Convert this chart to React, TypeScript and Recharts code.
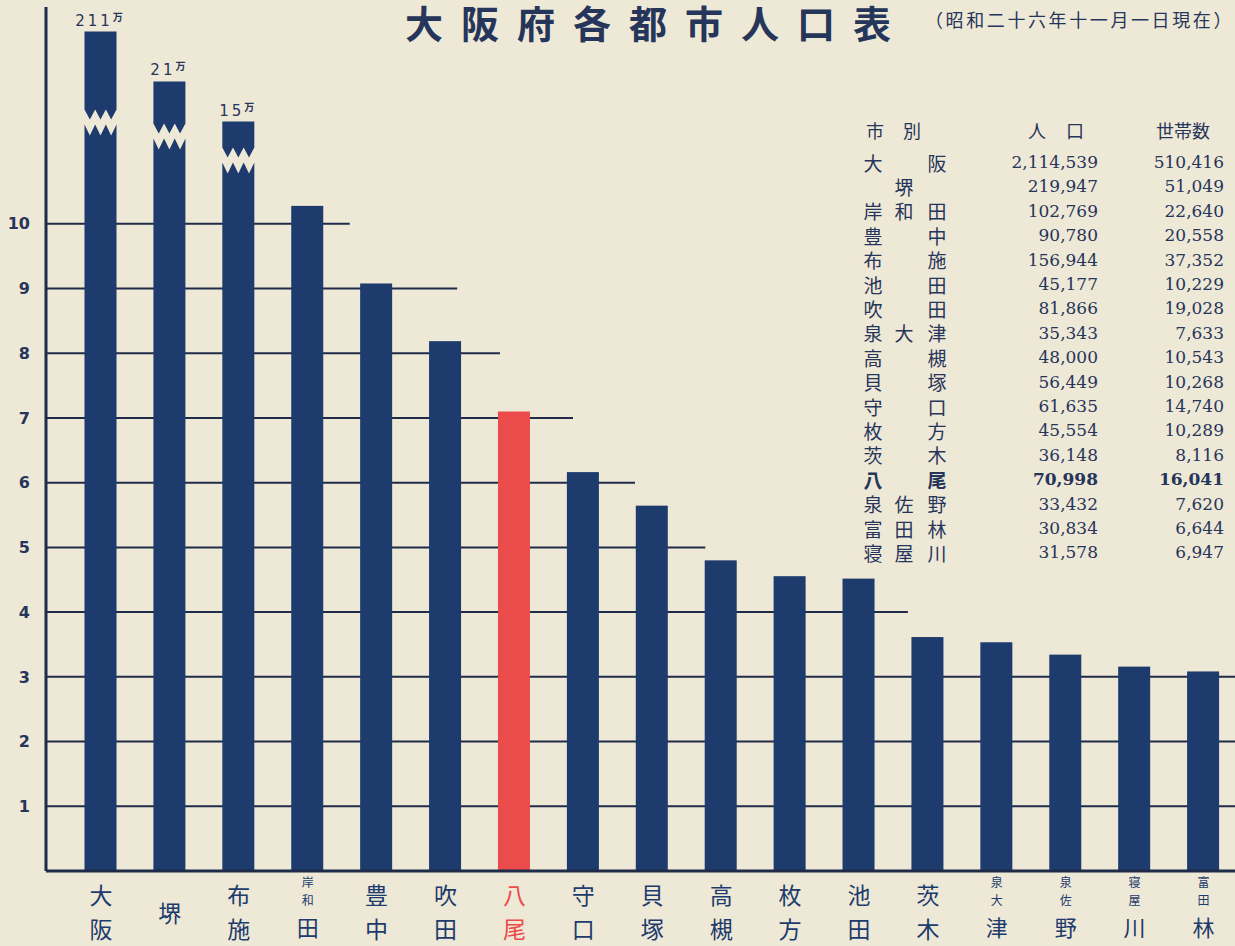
import { Bar, CartesianGrid, ComposedChart, XAxis, YAxis } from "recharts";

const NAVY = "#1d3b6c";
const RED = "#ec4b4b";
const INK = "#26355a";
const RULE = "#1f2b48";
const PAPER = "#eee8d6";
const GOTHIC = "'Noto Sans CJK JP', 'Noto Sans', sans-serif";
const NUMFONT = "'DejaVu Serif', 'Liberation Serif', serif";

// table, in the order the original lists it
const tableCities = [
  "大阪", "堺", "岸和田", "豊中", "布施", "池田", "吹田", "泉大津", "高槻",
  "貝塚", "守口", "枚方", "茨木", "八尾", "泉佐野", "富田林", "寝屋川",
];
const tablePopulation = [
  2114539, 219947, 102769, 90780, 156944, 45177, 81866, 35343, 48000,
  56449, 61635, 45554, 36148, 70998, 33432, 30834, 31578,
];
const tableHouseholds = [
  510416, 51049, 22640, 20558, 37352, 10229, 19028, 7633, 10543,
  10268, 14740, 10289, 8116, 16041, 7620, 6644, 6947,
];
const yTicks = [1, 2, 3, 4, 5, 6, 7, 8, 9, 10];
const HIGHLIGHT = "八尾";

// broken bars: where the drawn stub stops (万) and where the break sits (px under the top)
const BREAK_TOP: Record<string, number> = { 大阪: 12.97, 堺: 12.2, 布施: 11.58 };
const BREAK_AT: Record<string, number> = { 大阪: 88, 堺: 52, 布施: 36 };

// the rules stop short on the right; length given in bar slots (plot spans SLOT_START..17)
const SLOT_START = -0.2975;
const SLOT_END = 17;
const RULE_END: Record<number, number> = { 10: 4.11, 9: 5.67, 8: 6.29, 7: 7.35, 6: 8.25, 5: 9.27, 4: 12.21 };

const data = tableCities
  .map((name, i) => ({ name, value: tablePopulation[i] / 10000 }))
  .sort((a, b) => b.value - a.value)
  .map((d) => ({ ...d, shown: BREAK_TOP[d.name] ?? d.value }));

function CityBar(props: any) {
  const { x, y, width, height, payload } = props;
  const fill = payload.name === HIGHLIGHT ? RED : NAVY;
  const cut = BREAK_AT[payload.name];
  if (cut === undefined) return <rect x={x} y={y} width={width} height={height} fill={fill} />;

  const bottom = y + height;
  const yb = y + cut;
  const n = 3;
  const tw = width / n;
  let up = `M${x},${y} L${x + width},${y} L${x + width},${yb - 10}`;
  for (let i = n - 1; i >= 0; i--) {
    up += ` L${x + (i + 0.5) * tw},${yb} L${x + i * tw},${yb - 10}`;
  }
  up += " Z";
  let lo = `M${x},${bottom} L${x},${yb + 5}`;
  for (let i = 0; i < n; i++) {
    lo += ` L${x + (i + 0.5) * tw},${yb + 16} L${x + (i + 1) * tw},${yb + 5}`;
  }
  lo += ` L${x + width},${bottom} Z`;

  return (
    <g>
      <path d={up} fill={fill} />
      <path d={lo} fill={fill} />
      <text
        x={x + width / 2}
        y={y - 6}
        textAnchor="middle"
        fill={INK}
        fontFamily="'DejaVu Sans', sans-serif"
        fontSize={15}
        letterSpacing={3}
      >
        {Math.floor(payload.value)}
        <tspan fontSize={10} dy={-5} fontFamily={GOTHIC} fontWeight={700}>
          万
        </tspan>
      </text>
    </g>
  );
}

function CityTick({ x, y, payload }: any) {
  const chars = [...String(payload.value)];
  const color = payload.value === HIGHLIGHT ? RED : NAVY;
  const common = { x, textAnchor: "middle" as const, dominantBaseline: "central" as const, fill: color, fontFamily: GOTHIC };
  if (chars.length === 1) {
    return <text {...common} y={y + 41} fontSize={23}>{chars[0]}</text>;
  }
  if (chars.length === 2) {
    return (
      <g>
        <text {...common} y={y + 23} fontSize={23}>{chars[0]}</text>
        <text {...common} y={y + 57} fontSize={23}>{chars[1]}</text>
      </g>
    );
  }
  return (
    <g>
      <text {...common} y={y + 10} fontSize={12}>{chars[0]}</text>
      <text {...common} y={y + 28} fontSize={12}>{chars[1]}</text>
      <text {...common} y={y + 55} fontSize={22}>{chars[2]}</text>
    </g>
  );
}

// grid rule, cut at its own length along the plot (levels follow yTicks order)
function Rule(props: any) {
  const { x1, x2, y1, y2, index } = props;
  const level = yTicks[index];
  if (level === undefined) return <g key={`rule-${index}`} />;
  const end = RULE_END[level] ?? SLOT_END;
  const xe = x1 + ((end - SLOT_START) / (SLOT_END - SLOT_START)) * (x2 - x1);
  return <line key={`rule-${index}`} x1={x1} y1={y1} x2={xe} y2={y2} stroke={RULE} strokeWidth={2} />;
}

const NAME_SLOTS: Record<number, number[]> = { 1: [904], 2: [873, 937], 3: [873, 904, 937] };

function Table() {
  const rowY = (i: number) => 162 + i * 24.4;
  return (
    <g>
      <g fill={INK} fontFamily={GOTHIC} fontSize={18} dominantBaseline="central" textAnchor="middle">
        <text x={875} y={130}>市</text>
        <text x={912} y={130}>別</text>
        <text x={1037} y={130}>人</text>
        <text x={1075} y={130}>口</text>
        <text x={1183} y={130}>世帯数</text>
      </g>
      {tableCities.map((name, i) => {
        const bold = name === HIGHLIGHT ? 700 : 400;
        const chars = [...name];
        return (
          <g key={name} fill={INK} dominantBaseline="central" fontWeight={bold}>
            {chars.map((c, j) => (
              <text key={j} x={NAME_SLOTS[chars.length][j]} y={rowY(i)} textAnchor="middle" fontFamily={GOTHIC} fontSize={19}>
                {c}
              </text>
            ))}
            <text x={1098} y={rowY(i)} textAnchor="end" fontFamily={NUMFONT} fontSize={17}>
              {tablePopulation[i].toLocaleString("en-US")}
            </text>
            <text x={1224} y={rowY(i)} textAnchor="end" fontFamily={NUMFONT} fontSize={17}>
              {tableHouseholds[i].toLocaleString("en-US")}
            </text>
          </g>
        );
      })}
    </g>
  );
}

export default function App() {
  return (
    <div style={{ position: "fixed", left: 0, top: 0, width: 1235, height: 946, overflow: "hidden", background: PAPER }}>
      <ComposedChart width={1238} height={946} data={data} margin={{ top: 7, right: 0, bottom: 0, left: 0 }}>
        <CartesianGrid vertical={false} horizontal={Rule} />
        <XAxis
          dataKey="name"
          height={75}
          padding={{ left: 20.5, right: 0 }}
          tickLine={false}
          tickSize={0}
          tickMargin={0}
          interval={0}
          axisLine={{ stroke: RULE, strokeWidth: 3 }}
          tick={<CityTick />}
        />
        <YAxis
          width={46}
          domain={[0, 13.35]}
          ticks={yTicks}
          allowDataOverflow
          tickLine={false}
          tickMargin={10}
          axisLine={{ stroke: RULE, strokeWidth: 3 }}
          tick={{ fill: INK, fontSize: 16, fontWeight: 700, fontFamily: "'DejaVu Sans', sans-serif" }}
        />
        <Bar dataKey="shown" barSize={32} shape={<CityBar />} isAnimationActive={false} />
      </ComposedChart>
      <svg width={1235} height={946} style={{ position: "absolute", left: 0, top: 0, pointerEvents: "none" }}>
        <text x={405} y={38} fill={INK} fontFamily={GOTHIC} fontWeight={700} fontSize={38} letterSpacing={18}>
          大阪府各都市人口表
        </text>
        <text x={925} y={27} fill={INK} fontFamily={GOTHIC} fontSize={18} letterSpacing={2.6}>
          （昭和二十六年十一月一日現在）
        </text>
        <Table />
      </svg>
    </div>
  );
}
